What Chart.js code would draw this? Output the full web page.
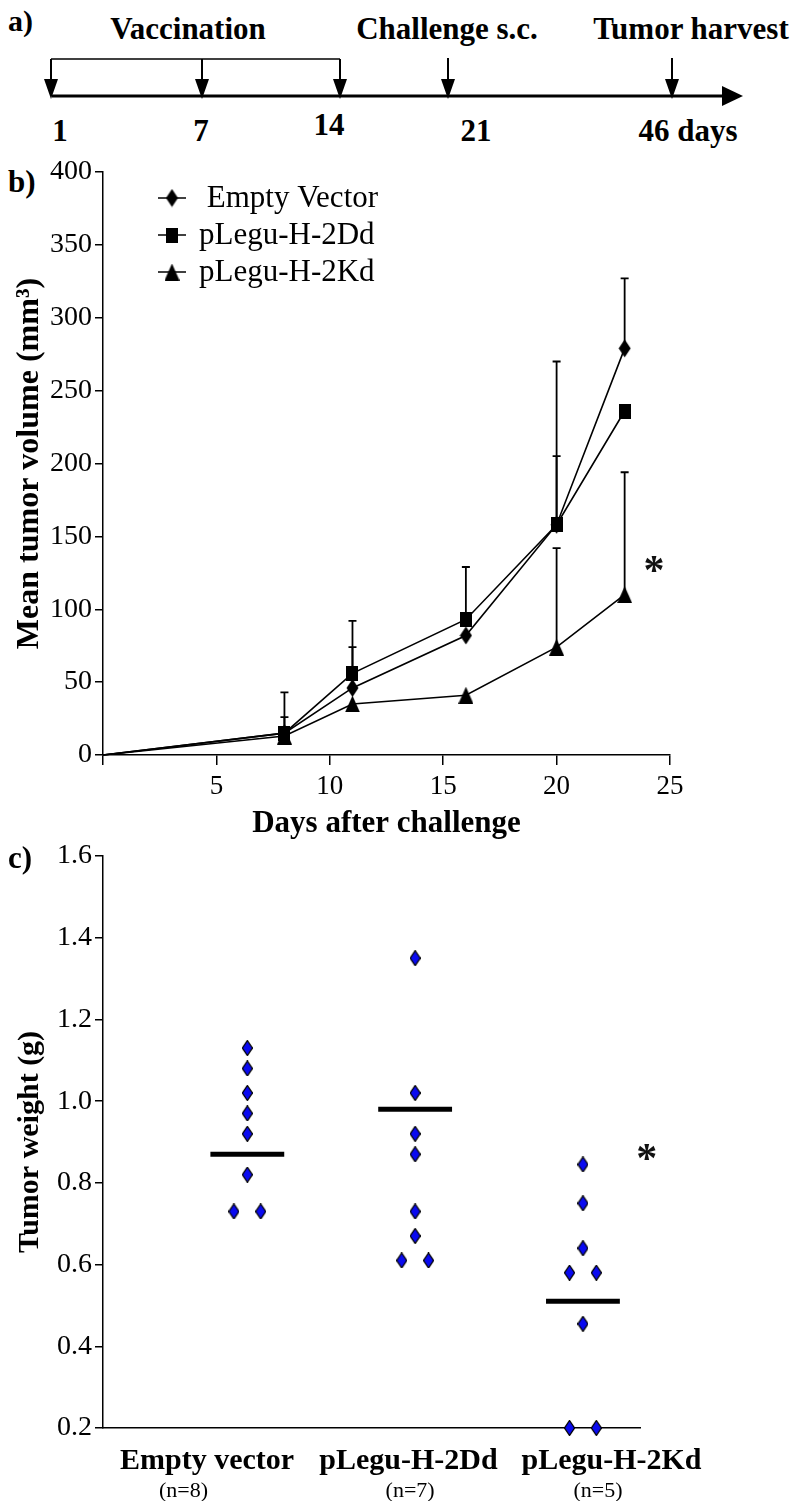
<!DOCTYPE html>
<html><head><meta charset="utf-8">
<script src="https://cdn.jsdelivr.net/npm/chart.js@4.4.1/dist/chart.umd.min.js"></script>
<style>
html,body{margin:0;padding:0;background:#fff;}
#page{position:relative;width:793px;height:1501px;overflow:hidden;font-family:"Liberation Serif","Times New Roman",serif;}
.abs{position:absolute;}
.lab{position:absolute;font-weight:bold;font-size:31px;line-height:1;color:#000;}
</style></head><body>
<div id="page">
<svg class="abs" style="left:0;top:0" width="793" height="150" xmlns="http://www.w3.org/2000/svg" font-family="Liberation Serif, Times New Roman, serif" font-weight="bold">
  <text x="8" y="31" font-size="30">a)</text>
  <text x="188" y="39" font-size="31" text-anchor="middle">Vaccination</text>
  <text x="447" y="39" font-size="31" text-anchor="middle">Challenge s.c.</text>
  <text x="691" y="39" font-size="31" text-anchor="middle">Tumor harvest</text>
  <line x1="51" y1="59" x2="340" y2="59" stroke="#000" stroke-width="1.5"/>
  <g stroke="#000" stroke-width="2">
    <line x1="51" y1="59" x2="51" y2="84"/>
    <line x1="202" y1="59" x2="202" y2="84"/>
    <line x1="340" y1="59" x2="340" y2="84"/>
    <line x1="448" y1="58" x2="448" y2="84"/>
    <line x1="672" y1="58" x2="672" y2="84"/>
  </g>
  <line x1="52" y1="96" x2="726" y2="96" stroke="#000" stroke-width="3"/>
  <g fill="#000">
    <polygon points="44,79 58,79 51,99"/>
    <polygon points="195,79 209,79 202,99"/>
    <polygon points="333,79 347,79 340,99"/>
    <polygon points="441,79 455,79 448,99"/>
    <polygon points="665,79 679,79 672,99"/>
    <polygon points="722,86 722,106 743,96"/>
  </g>
  <text x="60" y="141" font-size="31" text-anchor="middle">1</text>
  <text x="201" y="141" font-size="31" text-anchor="middle">7</text>
  <text x="329" y="135" font-size="31" text-anchor="middle">14</text>
  <text x="476" y="141" font-size="31" text-anchor="middle">21</text>
  <text x="688" y="141" font-size="31" text-anchor="middle">46 days</text>
</svg>
<div class="lab" style="left:8px;top:166px">b)</div>
<div class="abs" style="left:0;top:150px;width:793px;height:700px"><canvas id="cb"></canvas></div>
<div class="lab" style="left:8px;top:842px">c)</div>
<div class="abs" style="left:0;top:830px;width:793px;height:671px"><canvas id="cc"></canvas></div>
</div>
<script>
// ---- Panel b data ----
const days = [0, 8, 11, 16, 20, 23];
const emptyVector = [0, 15, 46, 82, 158, 279];
const legu2Dd = [0, 15, 56, 93, 158, 236];
const legu2Kd = [0, 13, 35, 41, 74, 110];
const emptyVectorErr = [null, 43, 74, null, 270, 327];
const legu2DdErr = [null, 26, 92, 129, 205, null];
const legu2KdErr = [null, null, null, null, 142, 194];
const seriesNames = [' Empty Vector', 'pLegu-H-2Dd', 'pLegu-H-2Kd'];
const volumeTickStep = 50;

// ---- Panel c data ----
const groups = ['Empty vector', 'pLegu-H-2Dd', 'pLegu-H-2Kd'];
const groupN = ['(n=8)', '(n=7)', '(n=5)'];
const weightsEmpty = [1.13, 1.08, 1.02, 0.97, 0.92, 0.82, 0.73, 0.73];
const weights2Dd = [1.35, 1.02, 0.92, 0.87, 0.73, 0.67, 0.61, 0.61];
const weights2Kd = [0.845, 0.75, 0.64, 0.58, 0.58, 0.455, 0.2, 0.2];
const groupMeans = [0.87, 0.98, 0.51];
const weightTicks = [0.2, 0.4, 0.6, 0.8, 1.0, 1.2, 1.4, 1.6];

const SERIF = '"Liberation Serif", "Times New Roman", serif';
// layout: label placement relative to each category (as drawn in the original figure)
const LABEL_SHIFT = [-0.24, -0.04, 0.17];
const N_SHIFT = [-0.38, -0.03, 0.09];

function shape(kind, w, h, fill, stroke) {
  const c = document.createElement('canvas'); c.width = w; c.height = h;
  const g = c.getContext('2d');
  g.beginPath();
  if (kind === 'diamond') { g.moveTo(w/2, 0.5); g.lineTo(w-0.5, h/2); g.lineTo(w/2, h-0.5); g.lineTo(0.5, h/2); }
  else if (kind === 'square') { g.rect(0, 0, w, h); }
  else { g.moveTo(w/2, 0); g.lineTo(w, h); g.lineTo(0, h); }
  g.closePath(); g.fillStyle = fill; g.fill();
  if (stroke) { g.lineWidth = 1.3; g.strokeStyle = stroke; g.stroke(); }
  return c;
}
const mkDiamond = shape('diamond', 13, 19, '#000');
const mkSquare = shape('square', 12, 15, '#000');
const mkTri = shape('tri', 15, 17, '#000');
const mkBlue = shape('diamond', 11, 16, '#0a0af0', '#000');

const pts = (xs, ys) => xs.map((x, i) => ({x, y: ys[i]}));

const errPlugin = {
  id: 'errbars',
  beforeDatasetsDraw(chart) {
    const {ctx} = chart; const x = chart.scales.x, y = chart.scales.y;
    chart.data.datasets.forEach(ds => {
      if (!ds.errTop) return;
      ds.errTop.forEach((t, i) => {
        if (t == null) return;
        const px = x.getPixelForValue(ds.data[i].x);
        const p0 = y.getPixelForValue(ds.data[i].y), p1 = y.getPixelForValue(t);
        ctx.save(); ctx.strokeStyle = '#000'; ctx.lineWidth = 1.8;
        ctx.beginPath(); ctx.moveTo(px, p0); ctx.lineTo(px, p1);
        ctx.moveTo(px - 4, p1); ctx.lineTo(px + 4, p1); ctx.stroke(); ctx.restore();
      });
    });
  }
};
const starPlugin = {
  id: 'star',
  afterDraw(chart, args, opts) {
    if (!opts || opts.x == null) return;
    const {ctx} = chart;
    const px = chart.scales.x.getPixelForValue(opts.x), py = chart.scales.y.getPixelForValue(opts.y);
    ctx.save(); ctx.fillStyle = '#111'; ctx.font = 'bold 42px ' + SERIF;
    ctx.textAlign = 'center'; ctx.textBaseline = 'middle'; ctx.fillText('*', px, py + 8); ctx.restore();
  }
};
const lineLegend = {
  id: 'lineLegend',
  afterDraw(chart) {
    const {ctx, chartArea} = chart;
    chart.data.datasets.forEach((ds, i) => {
      const y = chartArea.top + 26 + i * 37, x = chartArea.left + 69;
      ctx.save(); ctx.strokeStyle = '#000'; ctx.lineWidth = 1.5;
      ctx.beginPath(); ctx.moveTo(x - 14, y); ctx.lineTo(x + 14, y); ctx.stroke();
      const img = ds.pointStyle; ctx.drawImage(img, x - img.width/2, y - img.height/2);
      ctx.fillStyle = '#000'; ctx.font = '31px ' + SERIF; ctx.textBaseline = 'middle';
      ctx.fillText(ds.label, x + 27, y + 1); ctx.restore();
    });
  }
};

const hideFirst = c => c.dataIndex === 0 ? 0 : 6;
const lineDs = (label, ys, err, style) => ({
  label, data: pts(days, ys), errTop: err, borderColor: '#000', backgroundColor: '#000',
  borderWidth: 1.6, pointStyle: style, pointRadius: hideFirst, tension: 0, clip: false
});

new Chart(document.getElementById('cb'), {
  type: 'line',
  data: { datasets: [
    lineDs(seriesNames[0], emptyVector, emptyVectorErr, mkDiamond),
    lineDs(seriesNames[1], legu2Dd, legu2DdErr, mkSquare),
    lineDs(seriesNames[2], legu2Kd, legu2KdErr, mkTri)
  ]},
  options: {
    responsive: true, maintainAspectRatio: false, animation: false,
    layout: { padding: { top: 22, right: 123, left: 0, bottom: 0 } },
    plugins: { legend: { display: false }, tooltip: { enabled: false }, star: { x: 24.3, y: 130 } },
    scales: {
      x: { type: 'linear', min: 0, max: 25,
        afterFit: s => { s.height = 95; },
        ticks: { stepSize: 5, color: '#000', padding: 6, font: { family: SERIF, size: 27 }, callback: v => v === 0 ? '' : v, maxRotation: 0 },
        grid: { drawOnChartArea: false, drawTicks: true, tickLength: 10, color: '#000', lineWidth: 1.5 },
        border: { display: true, color: '#000', width: 1.5 },
        title: { display: true, text: 'Days after challenge', color: '#000', font: { family: SERIF, size: 31, weight: 'bold' }, padding: { top: 0, bottom: 7 } }
      },
      y: { type: 'linear', min: 0, max: 400,
        afterFit: s => { s.width = 103; },
        ticks: { stepSize: volumeTickStep, color: '#000', padding: 3, font: { family: SERIF, size: 28 } },
        grid: { drawOnChartArea: false, drawTicks: true, tickLength: 8, color: '#000', lineWidth: 1.5 },
        border: { display: true, color: '#000', width: 1.5 },
        title: { display: true, text: 'Mean tumor volume (mm³)', color: '#000', font: { family: SERIF, size: 32, weight: 'bold' }, padding: { top: 11, bottom: 0 } }
      }
    }
  },
  plugins: [errPlugin, starPlugin, lineLegend]
});

// ---- Panel c ----
function dodge(vals, gi) {
  return vals.map((v, i) => {
    const same = vals.filter(w => w === v).length;
    let off = 0;
    if (same > 1) { const k = vals.slice(0, i).filter(w => w === v).length; off = k === 0 ? -0.08 : 0.08; }
    return { x: gi + 1 + off, y: v };
  });
}
const weightSets = [weightsEmpty, weights2Dd, weights2Kd];
const cDatasets = [];
weightSets.forEach((vals, gi) => {
  cDatasets.push({ type: 'scatter', label: groups[gi], data: dodge(vals, gi), pointStyle: mkBlue, pointRadius: 6, clip: false });
  cDatasets.push({ type: 'line', label: groups[gi] + ' mean', data: [{x: gi + 1 - 0.22, y: groupMeans[gi]}, {x: gi + 1 + 0.22, y: groupMeans[gi]}],
    borderColor: '#000', borderWidth: 5, pointRadius: 0, borderCapStyle: 'butt' });
});

new Chart(document.getElementById('cc'), {
  type: 'scatter',
  data: { datasets: cDatasets },
  options: {
    responsive: true, maintainAspectRatio: false, animation: false,
    layout: { padding: { top: 26, right: 153, left: 0, bottom: 0 } },
    plugins: { legend: { display: false }, tooltip: { enabled: false }, star: { x: 3.38, y: 0.873 } },
    scales: {
      x: { type: 'linear', min: 0.14, max: 3.34, position: 'bottom', weight: 0,
        afterBuildTicks: s => { s.ticks = groups.map((g, i) => ({ value: i + 1 + LABEL_SHIFT[i] })); },
        afterFit: s => { s.height = 50; },
        ticks: { autoSkip: false, maxRotation: 0, color: '#000', padding: 15, font: { family: SERIF, size: 30, weight: 'bold' }, callback: (v, i) => groups[i] },
        grid: { display: false, drawTicks: false },
        border: { display: true, color: '#000', width: 1.5 }
      },
      x2: { type: 'linear', min: 0.14, max: 3.34, position: 'bottom', weight: 1,
        afterBuildTicks: s => { s.ticks = groupN.map((g, i) => ({ value: i + 1 + N_SHIFT[i] })); },
        afterFit: s => { s.height = 23; },
        ticks: { autoSkip: false, maxRotation: 0, color: '#000', padding: 0, font: { family: SERIF, size: 22 }, callback: (v, i) => groupN[i] },
        grid: { display: false, drawTicks: false },
        border: { display: false }
      },
      y: { type: 'linear', min: 0.2, max: 1.6,
        afterBuildTicks: s => { s.ticks = weightTicks.map(v => ({ value: v })); },
        afterFit: s => { s.width = 103; },
        ticks: { color: '#000', padding: 3, font: { family: SERIF, size: 28 }, callback: v => Number(v).toFixed(1) },
        grid: { drawOnChartArea: false, drawTicks: true, tickLength: 8, color: '#000', lineWidth: 1.5 },
        border: { display: true, color: '#000', width: 1.5 },
        title: { display: true, text: 'Tumor weight (g)', color: '#000', font: { family: SERIF, size: 30, weight: 'bold' }, padding: { top: 12, bottom: 0 } }
      }
    }
  },
  plugins: [starPlugin]
});
</script>
</body></html>
